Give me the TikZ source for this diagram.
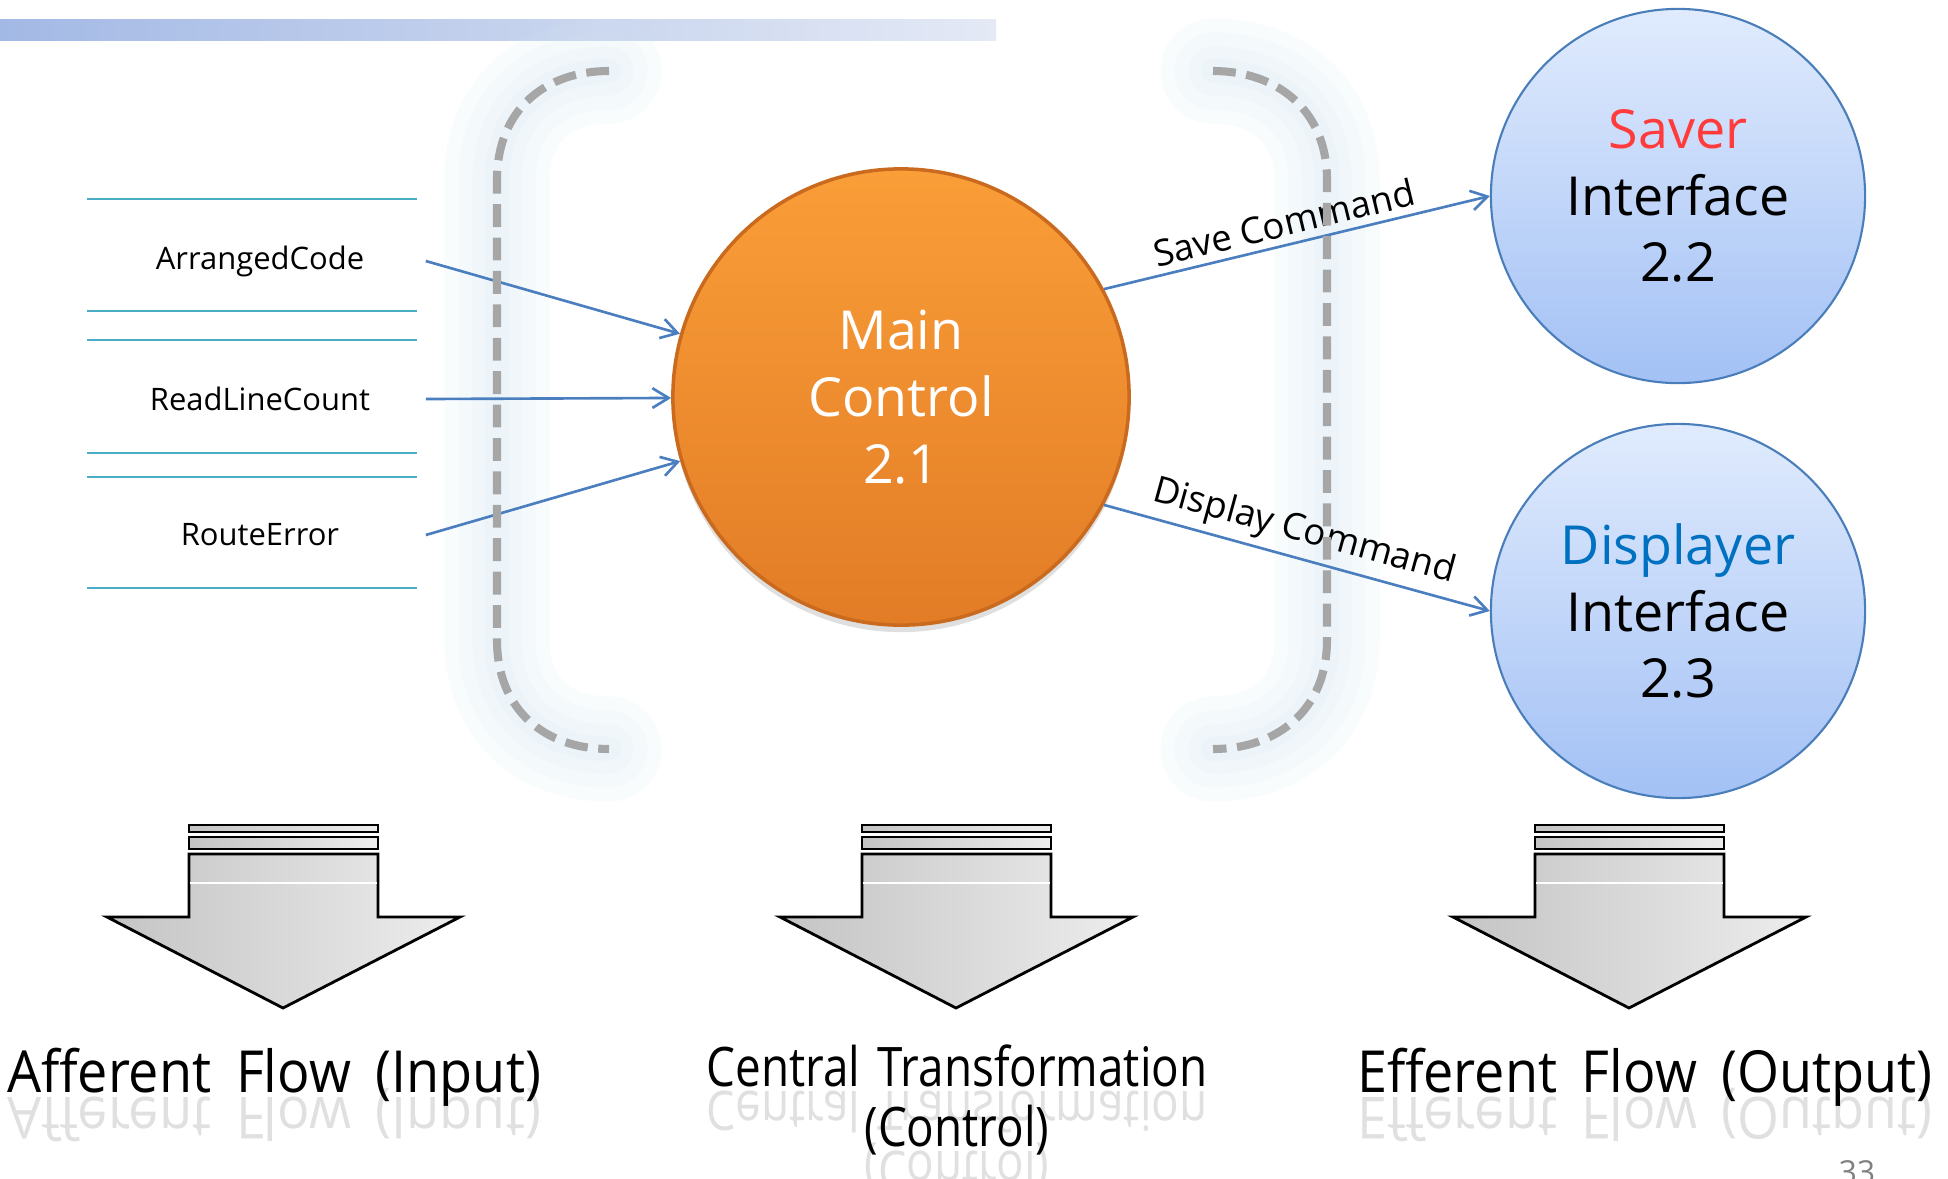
\documentclass[tikz,border=0pt]{standalone}
\usepackage{fontspec}
\setmainfont{Open Sans}
\newfontfamily\narrowsans[FakeStretch=0.93]{Open Sans}
\newfontfamily\narrowersans[FakeStretch=0.84]{Open Sans}
\usetikzlibrary{arrows.meta,shadows}
\definecolor{barL}{HTML}{A3B9E5}
\definecolor{barR}{HTML}{E4E9F5}
\definecolor{tealline}{HTML}{4BACC6}
\definecolor{flowblue}{HTML}{4A7EBF}
\definecolor{brgray}{HTML}{A6A6A6}
\definecolor{glowc}{HTML}{D3E6F0}
\definecolor{orT}{HTML}{FA9E38}
\definecolor{orB}{HTML}{E27C26}
\definecolor{orRim}{HTML}{C96A1E}
\definecolor{blT}{HTML}{E0EBFD}
\definecolor{blB}{HTML}{A3C1F5}
\definecolor{blRim}{HTML}{4A7EBB}
\definecolor{saverRed}{HTML}{FF3B3B}
\definecolor{dispBlue}{HTML}{0070C0}
\definecolor{arL}{HTML}{C4C4C4}
\definecolor{arR}{HTML}{EDEDED}
\newcommand\drawblockarrow[1]{%
  \begin{scope}[shift={(#1,0)}]
    \path[blk] (189,825) rectangle (378,832);
    \path[blk] (189,837) rectangle (378,849);
    \path[blk] (189,854) -- (378,854) -- (378,917) -- (460,917) -- (283,1008) -- (107,917) -- (189,917) -- cycle;
    \draw[white, line width=0.6pt] (190,883) -- (377,883);
  \end{scope}}
\begin{document}
\begin{tikzpicture}[x=0.01cm,y=-0.01cm,
  lbl/.style={font=\fontsize{8.8}{10}\selectfont, minimum width=3.3cm, inner sep=0pt},
  flow/.style={draw=flowblue, line width=0.75pt, -{Straight Barb[length=4.6pt,width=5.6pt,line width=0.75pt]}},
  bcirc/.style={circle, minimum size=3.74cm, inner sep=0pt, top color=blT, bottom color=blB, draw=blRim, line width=0.6pt, align=center, font=\fontsize{15.3}{19}\selectfont},
  cmdlbl/.style={font=\fontsize{10.4}{12}\selectfont, inner sep=2pt},
  bracket/.style={draw=brgray, line width=2.3pt, dash pattern=on 6.5pt off 3pt},
  blk/.style={draw=black, line width=0.8pt, left color=arL, right color=arR},
  btxt/.style={font=\narrowsans\fontsize{16.5}{19}\selectfont, anchor=base, inner sep=0pt},
  ctxt/.style={font=\narrowersans\fontsize{15.5}{19}\selectfont, anchor=base, inner sep=0pt},
  refl/.style={text=black!12, yscale=-1, transform shape}]
\useasboundingbox (0,0) rectangle (1948,1178);

% top bar
\fill[left color=barL, right color=barR] (0,19) rectangle (996,40);

% soft glow behind brackets
\foreach \w in {30pt,22pt,14pt,7pt}{
  \draw[glowc, line width=\w, draw opacity=0.13, line cap=round]
    (609,71) .. controls (545,71) and (497,110) .. (497,180) -- (497,640) .. controls (497,710) and (545,749) .. (609,749);
  \draw[glowc, line width=\w, draw opacity=0.13, line cap=round]
    (1213,71) .. controls (1277,71) and (1327,110) .. (1327,180) -- (1327,640) .. controls (1327,710) and (1277,749) .. (1213,749);
}

% data store lines
\foreach \yy in {199,311,340,453,477,588}{
  \draw[tealline, line width=0.75pt] (87,\yy) -- (417,\yy);
}

% labels
\node[lbl] (ac) at (260,261) {ArrangedCode};
\node[lbl] (rl) at (260,399) {ReadLineCount};
\node[lbl] (re) at (260,535) {RouteError};

% main bubble
\node[circle, minimum size=4.56cm, inner sep=0pt, top color=orT, bottom color=orB,
      draw=orRim, line width=1pt, text=white, align=center,
      font=\fontsize{15.3}{19}\selectfont,
      drop shadow={opacity=0.25, shadow xshift=0pt, shadow yshift=-2pt}]
  (main) at (901,397) {Main\\Control\\2.1};

\node[bcirc] (saver) at (1678,196) {\textcolor{saverRed}{Saver}\\Interface\\2.2};
\node[bcirc] (disp) at (1678,611) {\textcolor{dispBlue}{Displayer}\\Interface\\2.3};

% connectors
\draw[flow] (ac.east) -- (main);
\draw[flow] (rl.east) -- (main);
\draw[flow] (re.east) -- (main);
\draw[flow] (main.28) -- node[cmdlbl, sloped, above, pos=0.48] (savelbl) {Save Command} (saver.west);
\draw[flow] (main.-28) -- node[cmdlbl, sloped, above, pos=0.5] (displbl) {Display Command} (disp.west);

% dashed brackets
\draw[bracket] (609,71) .. controls (545,71) and (497,110) .. (497,180) -- (497,640) .. controls (497,710) and (545,749) .. (609,749);
\draw[bracket] (1213,71) .. controls (1277,71) and (1327,110) .. (1327,180) -- (1327,640) .. controls (1327,710) and (1277,749) .. (1213,749);

% block arrows
\drawblockarrow{0}
\drawblockarrow{673}
\drawblockarrow{1346}

% bottom captions with faint reflections
\node[btxt, refl] (affr) at (274,1097) {Afferent\hspace{7pt}Flow\hspace{7pt}(Input)};
\node[ctxt, refl] (cenr) at (957,1091) {Central\hspace{5pt}Transformation};
\node[ctxt, refl] (conr) at (957,1151) {(Control)};
\node[btxt, refl] (effr) at (1645,1097) {Efferent\hspace{7pt}Flow\hspace{7pt}(Output)};

\node[btxt] (aff) at (274,1092) {Afferent\hspace{7pt}Flow\hspace{7pt}(Input)};
\node[ctxt] (cen) at (957,1086) {Central\hspace{5pt}Transformation};
\node[ctxt] (con) at (957,1146) {(Control)};
\node[btxt] (eff) at (1645,1092) {Efferent\hspace{7pt}Flow\hspace{7pt}(Output)};

% page number
\node[anchor=north, text=black!50, font=\fontsize{9}{10}\selectfont, inner sep=0pt] (pgno) at (1857,1160) {33};
\end{tikzpicture}
\end{document}
